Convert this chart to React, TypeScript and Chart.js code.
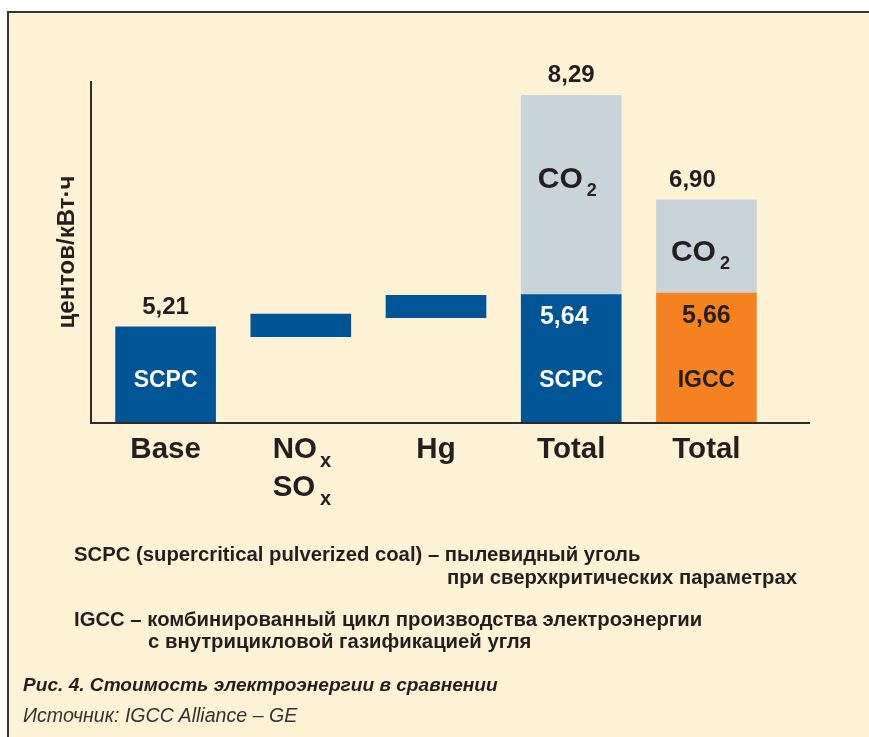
import React, { useEffect, useRef } from "react";
import { Chart, registerables } from "chart.js";

Chart.register(...registerables);

// ---- data ----
const categories = ["Base", "NOx/SOx", "Hg", "Total", "Total"];
const yAxisTitle = "центов/кВт·ч";
const Y_MIN = 3.93;
const Y_MAX = 8.48;
const scpcBase = 5.21;
const noxRange = [5.08, 5.38];
const hgRange = [5.33, 5.63];
const scpcTotal = 5.64;
const scpcTotalWithCO2 = 8.29;
const igccTotal = 5.66;
const igccTotalWithCO2 = 6.9;
const topLabels = ["5,21", "", "", "8,29", "6,90"];
const innerValueLabels = ["", "", "", "5,64", "5,66"];
const innerNameLabels = ["SCPC", "", "", "SCPC", "IGCC"];
const co2Label = "CO";
const co2Sub = "2";

const notes = [
  "SCPC (supercritical pulverized coal) – пылевидный уголь",
  "при сверхкритических параметрах",
  "IGCC – комбинированный цикл производства электроэнергии",
  "с внутрицикловой газификацией угля",
];
const caption = "Рис. 4. Стоимость электроэнергии в сравнении";
const source = "Источник: IGCC Alliance – GE";

// ---- styles ----
const BLUE = "#005596";
const ORANGE = "#f58220";
const GRAY = "#c8d4da";
const CREAM = "#fdf2d4";
const INK = "#231f20";
const FONT = "'Liberation Sans', Arial, Helvetica, sans-serif";

const W = 869;
const H = 737;

function drawWithSub(
  ctx: CanvasRenderingContext2D,
  main: string,
  sub: string,
  left: number,
  baseline: number,
  mainSize: number,
  subSize: number,
  drop: number,
  gap: number,
  color: string
) {
  ctx.fillStyle = color;
  ctx.textAlign = "left";
  ctx.textBaseline = "alphabetic";
  ctx.font = `bold ${mainSize}px ${FONT}`;
  const mw = ctx.measureText(main).width;
  ctx.fillText(main, left, baseline);
  ctx.font = `bold ${subSize}px ${FONT}`;
  ctx.fillText(sub, left + mw + gap, baseline + drop);
}

function subWidth(
  ctx: CanvasRenderingContext2D,
  main: string,
  sub: string,
  mainSize: number,
  subSize: number,
  gap: number
) {
  ctx.font = `bold ${mainSize}px ${FONT}`;
  const a = ctx.measureText(main).width;
  ctx.font = `bold ${subSize}px ${FONT}`;
  const b = ctx.measureText(sub).width;
  return a + gap + b;
}

const labelsPlugin = {
  id: "labels",
  afterDatasetsDraw(chart: any) {
    const ctx: CanvasRenderingContext2D = chart.ctx;
    const xs = chart.scales.x;
    const ys = chart.scales.y;
    const area = chart.chartArea;
    ctx.save();

    // axes
    ctx.strokeStyle = "#2b2b2b";
    ctx.lineWidth = 2;
    ctx.beginPath();
    ctx.moveTo(area.left + 1, area.top);
    ctx.lineTo(area.left + 1, area.bottom + 1);
    ctx.moveTo(area.left, area.bottom);
    ctx.lineTo(area.right, area.bottom);
    ctx.stroke();

    // y title
    ctx.save();
    ctx.translate(67, (area.top + area.bottom) / 2);
    ctx.rotate(-Math.PI / 2);
    ctx.fillStyle = INK;
    ctx.font = `bold 24px ${FONT}`;
    ctx.textAlign = "center";
    ctx.textBaseline = "middle";
    ctx.fillText(yAxisTitle, 0, 0);
    ctx.restore();

    const tops = [scpcBase, noxRange[1], hgRange[1], scpcTotalWithCO2, igccTotalWithCO2];
    const topDx: Record<number, number> = { 4: -14 };

    categories.forEach((cat, i) => {
      const cx = xs.getPixelForValue(i);
      // category labels
      ctx.fillStyle = INK;
      ctx.textBaseline = "alphabetic";
      if (cat === "NOx/SOx") {
        ctx.font = `bold 29.5px ${FONT}`;
        const noW = ctx.measureText("NO").width;
        const left = cx - (noW + 2 + 10) / 2;
        ctx.textAlign = "left";
        ctx.fillText("NO", left, area.bottom + 35);
        ctx.fillText("SO", left, area.bottom + 73);
        ctx.font = `bold 20px ${FONT}`;
        ctx.fillText("x", left + noW + 3, area.bottom + 44);
        ctx.fillText("x", left + noW + 3, area.bottom + 82);
      } else {
        ctx.font = `bold 29.5px ${FONT}`;
        ctx.textAlign = "center";
        ctx.fillText(cat, cx, area.bottom + 35);
      }

      // top value labels
      if (topLabels[i]) {
        ctx.font = `bold 24px ${FONT}`;
        ctx.textAlign = "center";
        ctx.fillStyle = INK;
        ctx.fillText(topLabels[i], cx + (topDx[i] || 0), ys.getPixelForValue(tops[i]) - 13);
      }

      // inner name labels
      if (innerNameLabels[i]) {
        ctx.font = `bold 23px ${FONT}`;
        ctx.textAlign = "center";
        ctx.fillStyle = innerNameLabels[i] === "IGCC" ? INK : "#ffffff";
        ctx.fillText(innerNameLabels[i], cx, area.bottom - 36);
      }
    });

    // inner values on the fuel part of the totals
    const fuelTops = [0, 0, 0, scpcTotal, igccTotal];
    const valDx: Record<number, number> = { 3: -7, 4: 0 };
    [3, 4].forEach((i) => {
      const cx = xs.getPixelForValue(i);
      ctx.font = `bold 25px ${FONT}`;
      ctx.textAlign = "center";
      ctx.fillStyle = i === 3 ? "#ffffff" : INK;
      ctx.fillText(innerValueLabels[i], cx + valDx[i], ys.getPixelForValue(fuelTops[i]) + 30);
    });

    // CO2 labels
    const co2Seg: Record<number, [number, number]> = {
      3: [scpcTotal, scpcTotalWithCO2],
      4: [igccTotal, igccTotalWithCO2],
    };
    const co2Shift: Record<number, { dx: number; dy: number }> = {
      3: { dx: -4, dy: -7 },
      4: { dx: -6, dy: 15 },
    };
    [3, 4].forEach((i) => {
      const cx = xs.getPixelForValue(i);
      const [a, b] = co2Seg[i];
      const mid = (ys.getPixelForValue(a) + ys.getPixelForValue(b)) / 2;
      const w = subWidth(ctx, co2Label, co2Sub, 30, 18, 4);
      drawWithSub(ctx, co2Label, co2Sub, cx - w / 2 + co2Shift[i].dx, mid + co2Shift[i].dy, 30, 18, 8, 4, INK);
    });

    ctx.restore();
  },
};

function ChartCanvas() {
  const ref = useRef<HTMLCanvasElement | null>(null);
  useEffect(() => {
    if (!ref.current) return;
    const chart = new Chart(ref.current, {
      type: "bar",
      data: {
        datasets: [
          {
            label: "SCPC",
            data: [
              { x: 0, y: [Y_MIN, scpcBase] },
              { x: 1, y: noxRange },
              { x: 2, y: hgRange },
              { x: 3, y: [Y_MIN, scpcTotal] },
            ] as any,
            backgroundColor: BLUE,
            grouped: false,
            barThickness: 100,
            borderWidth: 0,
          } as any,
          {
            label: "IGCC",
            data: [{ x: 4, y: [Y_MIN, igccTotal] }] as any,
            backgroundColor: ORANGE,
            grouped: false,
            barThickness: 100,
            borderWidth: 0,
          } as any,
          {
            label: "CO2",
            data: [
              { x: 3, y: [scpcTotal, scpcTotalWithCO2] },
              { x: 4, y: [igccTotal, igccTotalWithCO2] },
            ] as any,
            backgroundColor: GRAY,
            grouped: false,
            barThickness: 100,
            borderWidth: 0,
          } as any,
        ],
      },
      options: {
        animation: false,
        responsive: false,
        devicePixelRatio: 1,
        layout: { padding: { left: 90, top: 81, right: 59, bottom: 314 } },
        plugins: { legend: { display: false }, tooltip: { enabled: false } },
        scales: {
          x: { type: "linear", min: -0.559, max: 4.766, offset: false, display: false },
          y: { type: "linear", min: Y_MIN, max: Y_MAX, display: false },
        },
      } as any,
      plugins: [labelsPlugin],
    });
    return () => chart.destroy();
  }, []);
  return (
    <canvas
      ref={ref}
      width={W}
      height={H}
      style={{ position: "absolute", left: 0, top: 0, width: W, height: H }}
    />
  );
}

function Line({ text, x, baseline, size, weight, italic, color }: any) {
  return (
    <div
      style={{
        position: "absolute",
        left: x,
        top: baseline - 0.8465 * size,
        fontFamily: FONT,
        fontSize: size,
        lineHeight: `${size}px`,
        fontWeight: weight,
        fontStyle: italic ? "italic" : "normal",
        color,
        whiteSpace: "pre",
      }}
    >
      {text}
    </div>
  );
}

export default function App() {
  return (
    <div
      style={{
        position: "absolute",
        left: 0,
        top: 0,
        width: W,
        height: H,
        overflow: "hidden",
        background: "#ffffff",
      }}
    >
      <div
        style={{
          position: "absolute",
          left: 7,
          top: 11,
          width: W - 7,
          height: H - 11,
          boxSizing: "border-box",
          borderTop: "2px solid #333333",
          borderLeft: "2px solid #333333",
          background: CREAM,
        }}
      />
      <ChartCanvas />
      <Line text={notes[0]} x={74} baseline={561} size={20.3} weight="bold" color={INK} />
      <Line text={notes[1]} x={447} baseline={584} size={20.3} weight="bold" color={INK} />
      <Line text={notes[2]} x={74} baseline={626} size={20.3} weight="bold" color={INK} />
      <Line text={notes[3]} x={148} baseline={648} size={20.3} weight="bold" color={INK} />
      <Line text={caption} x={23} baseline={691} size={19.1} weight="bold" italic color={INK} />
      <Line text={source} x={23} baseline={723} size={19.6} weight="normal" italic color="#333333" />
    </div>
  );
}
